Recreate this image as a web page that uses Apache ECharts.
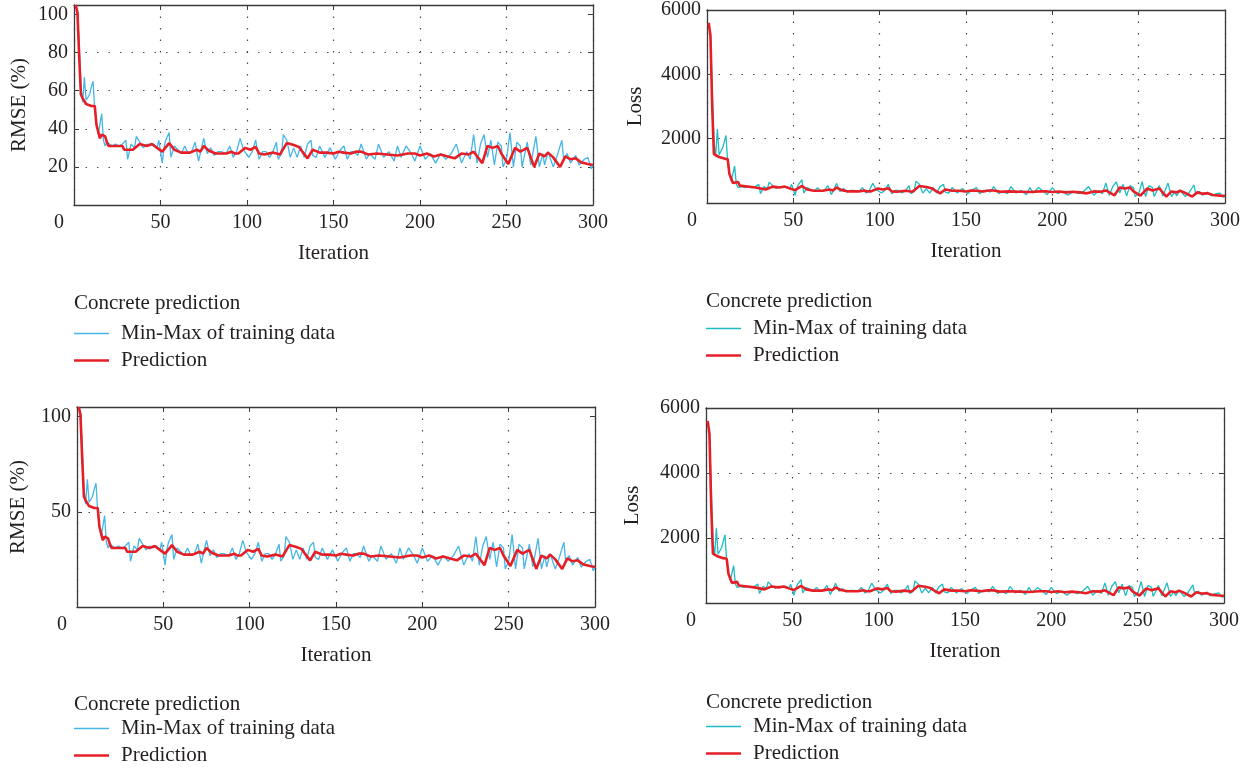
<!DOCTYPE html>
<html>
<head>
<meta charset="utf-8">
<script src="https://cdn.jsdelivr.net/npm/echarts@6/dist/echarts.min.js"></script>
<style>
html, body { margin: 0; padding: 0; background: #fff; }
#main { width: 1251px; height: 769px; }
</style>
</head>
<body>
<div id="main"></div>
<script>
// iterations where the min-max (training data) curve was read
const minMaxIter = [
	1,2,3,4,5,6,7,8,9,10,
	11,12,13,14,15,16,17,18,19,20,
	22,24,26,28,30,31,33,35,36,38,
	40,42,44,46,48,49,51,52,53,55,
	56,58,60,62,64,66,68,69,70,72,
	74,75,77,79,81,83,85,88,90,92,
	94,96,98,99,101,103,105,107,109,111,
	113,115,117,118,120,121,123,125,127,129,
	131,133,135,137,138,140,142,145,148,151,
	154,156,158,160,162,164,166,169,171,174,
	176,179,182,185,187,189,192,195,197,200,
	203,206,209,212,215,218,221,224,227,229,
	231,233,235,237,239,241,243,245,247,248,
	250,252,254,256,258,259,262,264,267,269,
	271,272,274,277,279,282,283,285,287,290,
	292,295,297,299,300
];
const minMaxRmse = [
	105,102,85,62,54,67,55,54,58,62,
	65,50,43,37,36,48,34,31,33,32,
	31,32,31,32,34,24,32,30,36,33,
	30,32,31,32,30,34,22,30,34,38,
	25,31,29,27,31,27,28,27,33,23,
	31,35,27,30,26,28,28,27,31,25,
	28,35,29,30,25,28,34,24,28,28,
	25,28,33,24,27,37,34,25,30,25,
	31,25,32,34,26,25,31,25,30,24,
	29,31,24,28,28,26,32,24,27,24,
	32,25,28,23,31,25,31,27,23,31,
	24,27,22,27,24,27,32,22,28,24,
	37,22,32,37,25,34,21,33,31,20,
	24,38,20,33,31,20,33,21,36,20,
	27,21,28,20,25,34,24,27,22,26,
	21,24,25,19,21
];
const minMaxLoss = [
	5600,5200,3600,1900,1450,2300,1500,1450,1700,1900,
	2100,1250,920,680,650,1150,580,480,540,510,
	480,510,480,510,580,290,510,450,650,540,
	450,510,480,510,450,580,240,450,580,720,
	310,480,420,360,480,360,390,360,540,260,
	480,610,360,450,340,390,390,360,480,310,
	390,610,420,450,310,390,580,290,390,390,
	310,390,540,290,360,680,580,310,450,310,
	480,310,510,580,340,310,480,310,450,290,
	420,480,290,390,390,340,510,290,360,290,
	510,310,390,260,480,310,480,360,260,480,
	290,360,240,360,290,360,510,240,390,290,
	620,240,510,660,310,580,220,540,480,200,
	290,660,200,540,480,200,540,220,620,200,
	360,220,390,200,310,560,290,360,240,340,
	220,290,310,180,220
];

// iterations where the prediction curve was read
const predIter = [
	1,2,3,4,5,7,10,12,13,14,
	15,16,18,19,20,28,29,34,38,42,
	45,48,51,55,58,62,67,71,73,75,
	78,82,88,91,93,95,99,102,105,107,
	110,115,119,123,127,130,132,135,138,142,
	146,150,153,156,160,163,166,170,175,181,
	187,193,197,200,204,208,212,216,220,224,
	228,231,236,239,242,245,247,251,255,258,
	262,266,269,272,274,277,281,284,287,290,
	293,297,300
];
const predRmse = [
	105,101,78,58,56,53,52,52,42,41,
	35,37,36,33,31,31,29,29,32,31,
	32,30,28,32.5,29,27.5,27.5,29,28,31,
	28.5,27,27,28,27,27,30,29,30.5,27,
	26.5,27.5,26.5,32.5,31.5,30.5,28,24.5,29,27.5,
	27.5,27,28,27.5,27,28,28,26.5,27,26.5,
	26,27,27,26,27,25.5,26.5,25.5,24.5,27,
	26.5,28,22,31,30,31,27,21.5,30,28,
	30,20,27,25.5,27.5,25,20,25.5,24,24.5,
	22.5,21.5,21
];
const predLoss = [
	5600,5200,3000,1520,1480,1430,1380,1360,900,850,
	620,680,650,540,480,480,420,420,510,480,
	510,450,400,530,420,380,380,420,390,480,
	400,360,360,390,360,360,450,420,460,360,
	350,380,350,530,500,460,390,300,420,380,
	380,360,390,380,360,390,390,350,360,350,
	340,360,360,340,360,330,350,330,300,360,
	350,390,240,480,450,480,360,230,450,390,
	450,200,360,330,380,310,200,330,290,300,
	250,230,220
];

// dotted horizontal grid lines (ticks below the top edge)
const rmseGridTop = [20, 40, 60, 80];
const rmseGridBottom = [50];
const lossGrid = [2000, 4000];

const FONT = '"Liberation Serif", "DejaVu Serif", serif';
const TXT = '#231f20';
const AXIS = '#3a3a3a';
const BLUE = '#45b6e6';
const TEAL = '#1fbcc3';
const RED = '#e61f27';

function zip(xs, ys) {
	return xs.map((x, i) => [x, ys[i]]);
}

const grids = [
	{ left: 74, top: 5, width: 519, height: 200 },
	{ left: 707, top: 8, width: 518, height: 195 },
	{ left: 77, top: 407, width: 518, height: 200 },
	{ left: 706, top: 408, width: 518, height: 195 }
];

const dotted = { type: [1.5, 10], color: '#4a4a4a', width: 1.2 };

function xAxes(g, nameGap) {
	return [{
		type: 'value', gridIndex: g, position: 'bottom',
		min: 0, max: 300, interval: 50,
		name: 'Iteration', nameLocation: 'middle', nameGap: nameGap,
		nameTextStyle: { fontFamily: FONT, fontSize: 21, color: TXT },
		axisLine: { onZero: false, lineStyle: { color: AXIS, width: 1.3 } },
		axisTick: { inside: true, length: 5, lineStyle: { color: AXIS } },
		axisLabel: {
			margin: 8, fontFamily: FONT, fontSize: 20, color: TXT,
			formatter: v => v === 0 ? '{z|0}' : String(v),
			rich: { z: { padding: [0, 30, 0, 0], fontFamily: FONT, fontSize: 20, color: TXT } }
		},
		splitLine: { show: true, lineStyle: dotted }
	}, {
		type: 'value', gridIndex: g, position: 'top',
		min: 0, max: 300, interval: 50,
		axisLine: { onZero: false, lineStyle: { color: AXIS, width: 1.3 } },
		axisTick: { inside: true, length: 5, lineStyle: { color: AXIS } },
		axisLabel: { show: false },
		splitLine: { show: false }
	}];
}

function yAxes(g, name, max, interval, nameGap) {
	return [{
		type: 'value', gridIndex: g, position: 'left',
		min: 0, max: max, interval: interval,
		name: name, nameLocation: 'middle', nameGap: nameGap,
		nameTextStyle: { fontFamily: FONT, fontSize: 21, color: TXT },
		axisLine: { show: true, onZero: false, lineStyle: { color: AXIS, width: 1.3 } },
		axisTick: { show: true, inside: true, length: 5, lineStyle: { color: AXIS } },
		axisLabel: {
			margin: 6, fontFamily: FONT, fontSize: 20, color: TXT,
			formatter: v => (v > 0 && v % interval === 0) ? String(v) : ''
		},
		splitLine: { show: false }
	}, {
		type: 'value', gridIndex: g, position: 'right',
		min: 0, max: max, interval: interval,
		axisLine: { show: true, onZero: false, lineStyle: { color: AXIS, width: 1.3 } },
		axisTick: { show: true, inside: true, length: 5, lineStyle: { color: AXIS } },
		axisLabel: { show: false },
		splitLine: { show: false }
	}];
}

function lines(g, blueData, redData, blueColor, gridVals) {
	return [{
		type: 'line', name: 'Min-Max of training data',
		xAxisIndex: g * 2, yAxisIndex: g * 2,
		data: blueData, symbol: 'none', animation: false,
		lineStyle: { color: blueColor, width: 1.3 }, itemStyle: { color: blueColor },
		markLine: {
			z: 1, silent: true, symbol: 'none', animation: false,
			label: { show: false },
			lineStyle: dotted,
			data: gridVals.map(v => ({ yAxis: v }))
		}
	}, {
		type: 'line', name: 'Prediction',
		xAxisIndex: g * 2, yAxisIndex: g * 2,
		data: redData, symbol: 'none', animation: false,
		lineStyle: { color: RED, width: 2.6 }, itemStyle: { color: RED }
	}];
}

function legendItem(left, top, name, color, thick) {
	return {
		left: left, top: top, padding: 0,
		icon: 'rect', itemWidth: 35, itemHeight: thick,
		selectedMode: false,
		textStyle: { fontFamily: FONT, fontSize: 21, color: TXT, padding: [0, 0, 0, 7] },
		data: [{ name: name, itemStyle: { color: color, borderWidth: 0 } }]
	};
}

function legendTitle(left, top) {
	return {
		text: 'Concrete prediction', left: left, top: top, padding: 0,
		textStyle: { fontFamily: FONT, fontSize: 21, fontWeight: 'normal', color: TXT }
	};
}

const rmseMinMax = zip(minMaxIter, minMaxRmse);
const rmsePred = zip(predIter, predRmse);
const lossMinMax = zip(minMaxIter, minMaxLoss);
const lossPred = zip(predIter, predLoss);

const chart = echarts.init(document.getElementById('main'));
chart.setOption({
	animation: false,
	backgroundColor: '#fff',
	grid: grids,
	title: [
		legendTitle(74, 293),
		legendTitle(706, 291),
		legendTitle(74, 694),
		legendTitle(706, 692)
	],
	legend: [
		legendItem(74, 323, 'Min-Max of training data', BLUE, 1.6),
		legendItem(74, 350, 'Prediction', RED, 2.6),
		legendItem(706, 318, 'Min-Max of training data', TEAL, 1.6),
		legendItem(706, 345, 'Prediction', RED, 2.6),
		legendItem(74, 718, 'Min-Max of training data', BLUE, 1.6),
		legendItem(74, 745, 'Prediction', RED, 2.6),
		legendItem(706, 716, 'Min-Max of training data', TEAL, 1.6),
		legendItem(706, 743, 'Prediction', RED, 2.6)
	],
	xAxis: [].concat(xAxes(0, 38), xAxes(1, 38), xAxes(2, 38), xAxes(3, 38)),
	yAxis: [].concat(
		yAxes(0, 'RMSE (%)', 105, 20, 44),
		yAxes(1, 'Loss', 6000, 2000, 61),
		yAxes(2, 'RMSE (%)', 105, 50, 48),
		yAxes(3, 'Loss', 6000, 2000, 63)
	),
	series: [].concat(
		lines(0, rmseMinMax, rmsePred, BLUE, rmseGridTop),
		lines(1, lossMinMax, lossPred, TEAL, lossGrid),
		lines(2, rmseMinMax, rmsePred, BLUE, rmseGridBottom),
		lines(3, lossMinMax, lossPred, TEAL, lossGrid)
	)
});
</script>
</body>
</html>
